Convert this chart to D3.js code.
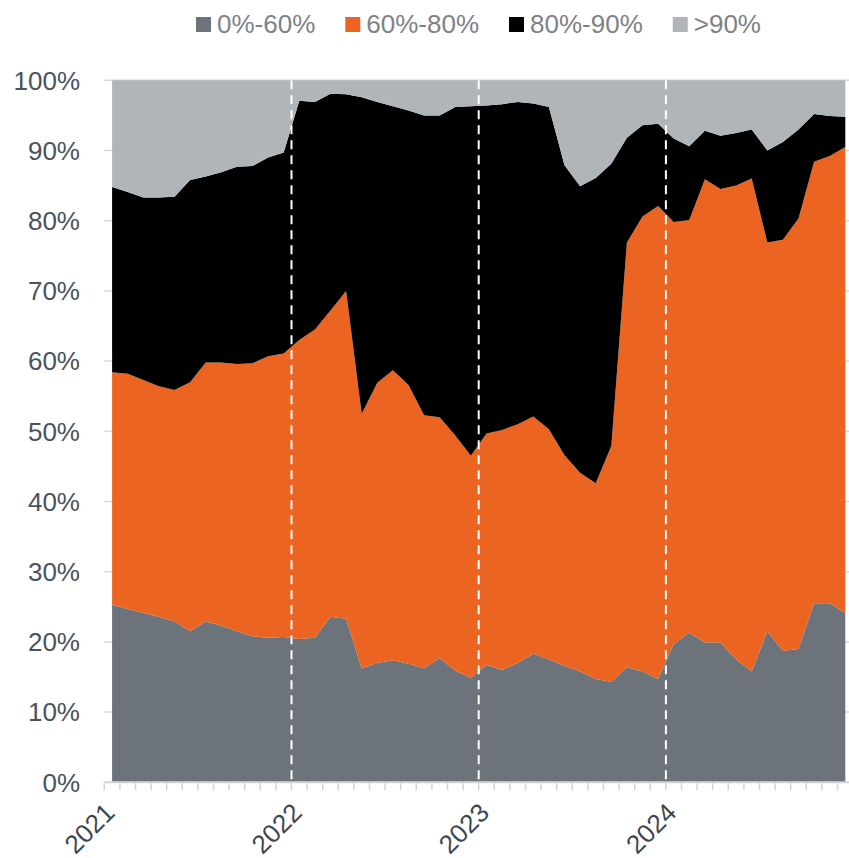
<!DOCTYPE html>
<html>
<head>
<meta charset="utf-8">
<script src="https://cdn.jsdelivr.net/npm/d3@7"></script>
<style>
  body { margin: 0; background: #fff; }
  svg { display: block; font-family: "Liberation Sans", Arial, sans-serif; }
</style>
</head>
<body>
<svg id="chart" width="849" height="858"></svg>
<script>
// monthly, Jan 2021 .. Dec 2024
const years = [2021, 2022, 2023, 2024];
const months = years.flatMap(y => d3.range(1, 13).map(m => `${y}-${String(m).padStart(2, "0")}`));

const seriesNames = ["0%-60%", "60%-80%", "80%-90%", ">90%"];
const seriesColors = ["#6c737b", "#ec6421", "#000000", "#b0b5ba"];

// share of total, in %
const share0to60 = [25.3, 24.7, 24.1, 23.6, 22.9, 21.5, 22.9, 22.3, 21.5, 20.8, 20.6, 20.7,
  20.4, 20.6, 23.6, 23.3, 16.2, 17.0, 17.4, 16.9, 16.2, 17.7, 15.9, 14.9,
  16.7, 16.0, 17.0, 18.3, 17.5, 16.6, 15.8, 14.7, 14.3, 16.4, 15.8, 14.7,
  19.7, 21.3, 19.9, 19.9, 17.5, 15.8, 21.5, 18.7, 19.0, 25.5, 25.5, 24.1];
const share60to80 = [33.1, 33.5, 33.2, 32.8, 33.0, 35.5, 36.9, 37.5, 38.1, 38.9, 40.1, 40.4,
  42.6, 43.9, 43.6, 46.7, 36.3, 39.9, 41.3, 39.7, 36.1, 34.3, 33.5, 31.6,
  33.0, 34.2, 34.0, 33.8, 32.8, 30.0, 28.3, 27.9, 33.6, 60.5, 64.8, 67.4,
  60.1, 58.8, 66.0, 64.6, 67.5, 70.2, 55.4, 58.6, 61.3, 62.9, 63.7, 66.4];
const share80to90 = [26.4, 25.9, 26.0, 26.9, 27.5, 28.8, 26.5, 27.1, 28.1, 28.1, 28.3, 28.6,
  34.1, 32.4, 30.9, 28.0, 45.1, 40.0, 37.6, 39.1, 42.7, 43.0, 46.8, 49.8,
  46.7, 46.4, 45.9, 44.6, 45.9, 41.3, 40.8, 43.5, 40.2, 14.9, 13.0, 11.7,
  11.9, 10.5, 6.9, 7.6, 7.5, 7.0, 13.1, 13.9, 12.7, 6.8, 5.7, 4.3];
const shareAbove90 = [15.2, 15.9, 16.7, 16.7, 16.6, 14.2, 13.7, 13.1, 12.3, 12.2, 11.0, 10.3,
  2.9, 3.1, 1.9, 2.0, 2.4, 3.1, 3.7, 4.3, 5.0, 5.0, 3.8, 3.7,
  3.6, 3.4, 3.1, 3.3, 3.8, 12.1, 15.1, 13.9, 11.9, 8.2, 6.4, 6.2,
  8.3, 9.4, 7.2, 7.9, 7.5, 7.0, 10.0, 8.8, 7.0, 4.8, 5.1, 5.2];

const yTicks = d3.range(0, 101, 10);

const rows = months.map((m, i) => ({
  month: m,
  [seriesNames[0]]: share0to60[i],
  [seriesNames[1]]: share60to80[i],
  [seriesNames[2]]: share80to90[i],
  [seriesNames[3]]: shareAbove90[i]
}));

const svg = d3.select("#chart");
const plotLeft = 104.3, plotBottom = 782.3, plotTop = 80.3;
const step = 15.6;

// one band per month, points sit in the middle of the band
const x = d3.scaleLinear().domain([0, months.length]).range([plotLeft, plotLeft + months.length * step]);
const y = d3.scaleLinear().domain([0, 100]).range([plotBottom, plotTop]);

// gridlines
svg.append("g")
  .selectAll("line")
  .data(yTicks.filter(d => d > 0))
  .join("line")
  .attr("x1", plotLeft).attr("x2", 849)
  .attr("y1", d => y(d)).attr("y2", d => y(d))
  .attr("stroke", "#d9d9d9")
  .attr("stroke-width", 1.5);

const stacked = d3.stack().keys(seriesNames)(rows);

const area = d3.area()
  .x((d, i) => x(i + 0.5))
  .y0(d => y(d[0]))
  .y1(d => y(d[1]));

svg.append("g")
  .selectAll("path")
  .data(stacked)
  .join("path")
  .attr("fill", (d, i) => seriesColors[i])
  .attr("d", area);

// year separators
svg.append("g")
  .selectAll("line")
  .data(years.slice(1))
  .join("line")
  .attr("x1", d => x(months.indexOf(`${d}-01`)))
  .attr("x2", d => x(months.indexOf(`${d}-01`)))
  .attr("y1", y(100)).attr("y2", y(0))
  .attr("stroke", "#fff")
  .attr("stroke-width", 2)
  .attr("stroke-dasharray", "9,6");

// x axis: line + month ticks
svg.append("line")
  .attr("x1", plotLeft).attr("x2", 849)
  .attr("y1", plotBottom).attr("y2", plotBottom)
  .attr("stroke", "#d4d4d4")
  .attr("stroke-width", 2);

svg.append("g")
  .selectAll("line")
  .data(d3.range(months.length))
  .join("line")
  .attr("x1", d => x(d)).attr("x2", d => x(d))
  .attr("y1", plotBottom).attr("y2", plotBottom + 8)
  .attr("stroke", "#d4d4d4")
  .attr("stroke-width", 1.5);

svg.append("g")
  .selectAll("text")
  .data(years)
  .join("text")
  .attr("transform", d => `translate(${x(months.indexOf(`${d}-01`)) + 12},${plotBottom + 32}) rotate(-45)`)
  .attr("text-anchor", "end")
  .attr("font-size", 26)
  .attr("fill", "#3c4650")
  .text(d => d);

// y labels
svg.append("g")
  .selectAll("text")
  .data(yTicks)
  .join("text")
  .attr("x", 80)
  .attr("y", d => y(d))
  .attr("dy", "0.36em")
  .attr("text-anchor", "end")
  .attr("font-size", 26)
  .attr("fill", "#4a535d")
  .text(d => d + "%");

// legend
const legend = svg.append("g");
let lx = 196;
seriesNames.forEach((name, i) => {
  legend.append("rect")
    .attr("x", lx).attr("y", 17)
    .attr("width", 15).attr("height", 15)
    .attr("fill", seriesColors[i]);
  const t = legend.append("text")
    .attr("x", lx + 21).attr("y", 33)
    .attr("font-size", 26)
    .attr("fill", "#7e8287")
    .text(name);
  lx += 21 + t.node().getComputedTextLength() + 30;
});
</script>
</body>
</html>
